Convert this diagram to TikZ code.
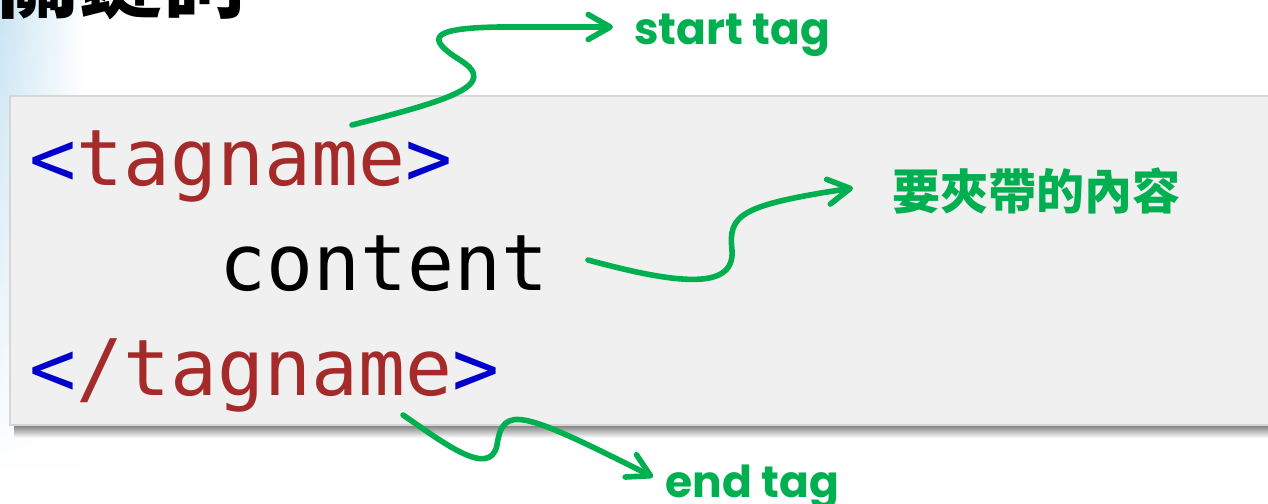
\documentclass[tikz,border=0pt]{standalone}
\usepackage{fontspec}
\usepackage{xcolor}
\usepackage{tikz}
\usetikzlibrary{arrows.meta, positioning, fadings}

\newfontfamily\codefont{DejaVu Sans Mono}
\newfontfamily\tagfont{Poppins}
\newfontfamily\cjkfont{Noto Sans CJK TC}

\definecolor{tagblue}{HTML}{0000CC}
\definecolor{tagred}{HTML}{A52A2A}
\definecolor{notegreen}{HTML}{00B050}
\definecolor{codebg}{HTML}{F0F0F0}
\definecolor{codeedge}{HTML}{D6D6D6}
\definecolor{sideblue}{HTML}{C9E4F3}

\tikzset{
  code/.style={anchor=base west, inner sep=0pt, font=\codefont\fontsize{39}{40}\selectfont},
  note/.style={anchor=base west, inner sep=0pt, text=notegreen, font=\tagfont\bfseries\fontsize{22}{24}\selectfont},
  cjknote/.style={note, font=\cjkfont\bfseries\fontsize{24}{26}\selectfont},
  pointer/.style={notegreen, line width=2.8pt, line cap=round, -{Straight Barb[length=11pt, width=12.5pt, round]}}
}

\begin{document}
\begin{tikzpicture}[x=0.5pt, y=-0.5pt]
    \clip (0,0) rectangle (1268,503);
    \fill[white] (0,0) rectangle (1268,503);
    \shade[left color=sideblue, right color=white, path fading=south] (0,0) rectangle (85,470);

    % Slide title (cut at the top)
    \node[anchor=base west, inner sep=0pt, font=\cjkfont\bfseries\fontsize{41.5}{42}\selectfont] (title) at (-4,11) {關鍵詞};

    % Code box with its shadow
    \shade[top color=black!55, bottom color=white] (14,424) rectangle (1290,438);
    \draw[codeedge, fill=codebg, line width=1pt] (10,96) rectangle (1290,425);

    % Code lines
    \node[code] (open) at (29,185) {\textcolor{tagblue}{<}\textcolor{tagred}{tagname}\textcolor{tagblue}{>}};
    \node[code] (body) at (219,290) {content};
    \node[code] (close) at (29,395) {\textcolor{tagblue}{<}\textcolor{tagred}{/tagname}\textcolor{tagblue}{>}};

    % Labels
    \node[note] (lblstart) at (634,44) {start tag};
    \node[cjknote] (lblbody) at (892,209) {要夾帶的內容};
    \node[note] (lblend) at (665,497) {end tag};

    % Arrow ends
    \coordinate (fromopen) at (352,125);
    \coordinate (frombody) at (588,260);
    \coordinate (fromclose) at (403,415);
    \coordinate (tipstart) at (613,27);
    \coordinate (tipbody) at (853,188);
    \coordinate (tipend) at (653,477);

    % Wavy pointers
    \draw[pointer] (fromopen) .. controls (450,100) and (500,85) .. (460,60)
        .. controls (425,38) and (430,28) .. (500,27) -- (tipstart);
    \draw[pointer] (frombody) .. controls (680,285) and (735,290) .. (732,250)
        .. controls (728,215) and (740,205) .. (tipbody);
    \draw[pointer] (fromclose) .. controls (440,440) and (490,480) .. (497,445)
        .. controls (503,405) and (520,410) .. (tipend);
\end{tikzpicture}
\end{document}
